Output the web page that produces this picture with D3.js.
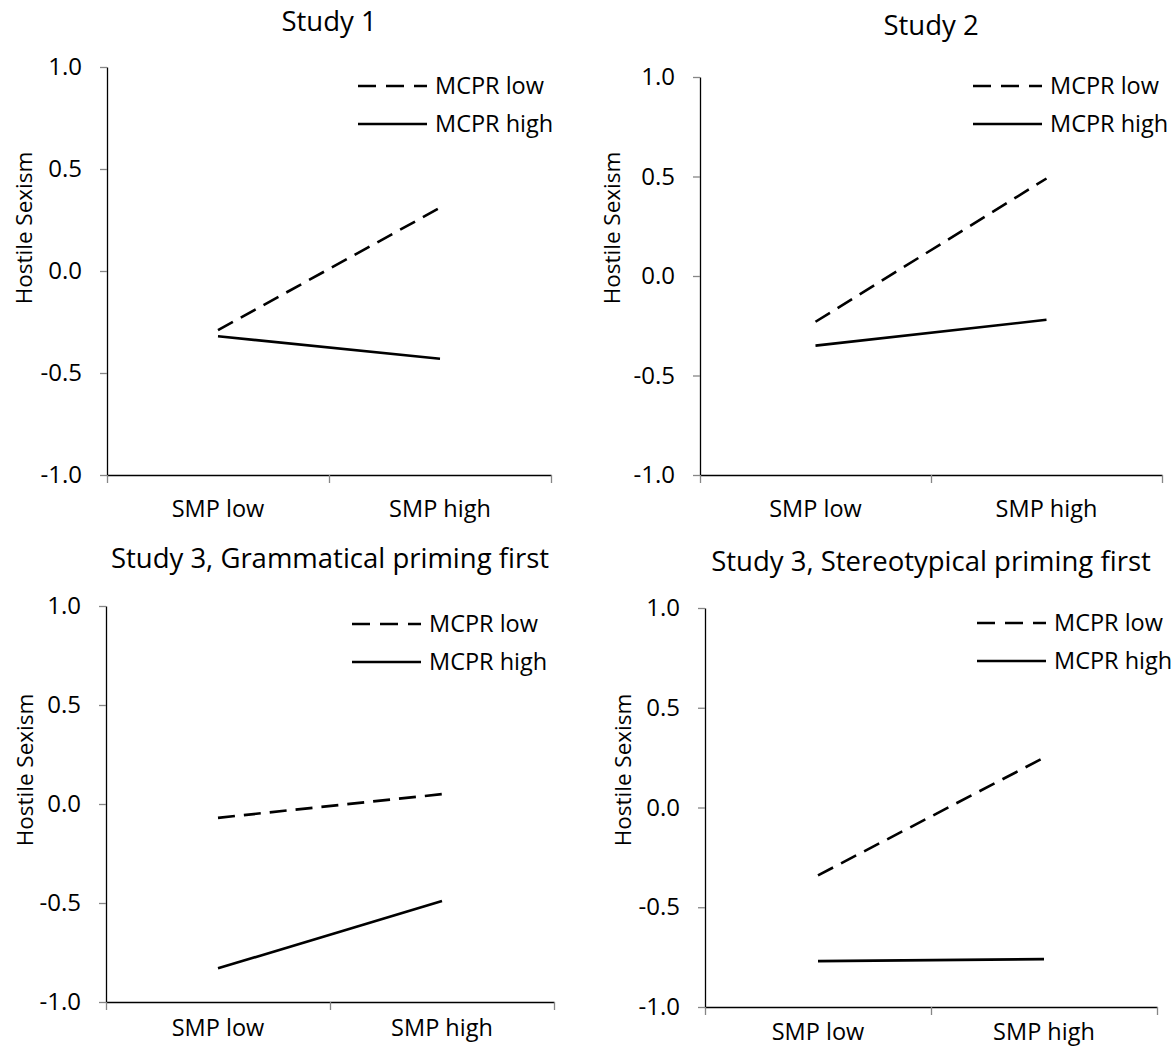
<!DOCTYPE html>
<html>
<head>
<meta charset="utf-8">
<script src="https://cdn.jsdelivr.net/npm/d3@7"></script>
<style>
  body { margin: 0; background: #fff; }
  text { font-family: "Open Sans", sans-serif; fill: #000; }
  .axis path { stroke: #000; stroke-width: 1.3; }
  .axis line { stroke: #868686; stroke-width: 1.3; }
</style>
</head>
<body>
<svg id="chart" width="1176" height="1057"></svg>
<script>
// data
const panelTitles = ["Study 1", "Study 2", "Study 3, Grammatical priming first", "Study 3, Stereotypical priming first"];
const categories = ["SMP low", "SMP high"];
const seriesNames = ["MCPR low", "MCPR high"];
const yTicks = [-1.0, -0.5, 0.0, 0.5, 1.0];
const yLabel = "Hostile Sexism";
// one pair per panel: [SMP low, SMP high]
const mcprLow = [[-0.29, 0.31], [-0.23, 0.49], [-0.07, 0.05], [-0.34, 0.25]];
const mcprHigh = [[-0.32, -0.43], [-0.35, -0.22], [-0.83, -0.49], [-0.77, -0.76]];

// layout for each panel (pixels)
const layout = [
  {left: 107, right: 551, top: 67, bottom: 475, titleY: 31, labelX: 32, labelY: 228, catDy: 42, legX: 358, legY: 86},
  {left: 700, right: 1162, top: 77, bottom: 475, titleY: 35, labelX: 620, labelY: 228, catDy: 42, legX: 973, legY: 86},
  {left: 106, right: 554, top: 606, bottom: 1002, titleY: 568, labelX: 33, labelY: 770, catDy: 34, legX: 352, legY: 624},
  {left: 705, right: 1157, top: 608, bottom: 1007, titleY: 571, labelX: 631, labelY: 770, catDy: 33, legX: 977, legY: 623}
];

const svg = d3.select("#chart");
const dashes = ["17,9", null];
const fmt = d => d.toFixed(1);

function drawPanel(i) {
  let L = layout[i];
  let g = svg.append("g").attr("class", "panel");

  let y = d3.scaleLinear().domain([-1, 1]).range([L.bottom, L.top]);
  let xBand = d3.scaleBand().domain(categories).range([L.left, L.right]);
  let xEdge = d3.scaleLinear().domain([0, categories.length]).range([L.left, L.right]);

  // y axis
  g.append("g")
    .attr("class", "axis")
    .attr("transform", "translate(" + L.left + ",0)")
    .call(d3.axisLeft(y).tickValues(yTicks).tickFormat(fmt).tickSize(7).tickSizeOuter(0).tickPadding(18))
    .call(a => a.selectAll("text").style("font-size", "24px").style("font-family", "Open Sans"));

  // x axis: ticks at category edges, labels at category centres
  g.append("g")
    .attr("class", "axis")
    .attr("transform", "translate(0," + L.bottom + ")")
    .call(d3.axisBottom(xEdge).tickValues(d3.range(categories.length + 1)).tickFormat("").tickSize(8).tickSizeOuter(0));

  g.selectAll(".cat")
    .data(categories)
    .enter()
    .append("text")
    .attr("class", "cat")
    .attr("x", d => xBand(d) + xBand.bandwidth() / 2)
    .attr("y", L.bottom + L.catDy)
    .attr("text-anchor", "middle")
    .style("font-size", "23.5px")
    .text(d => d);

  // title
  g.append("text")
    .attr("x", (L.left + L.right) / 2)
    .attr("y", L.titleY)
    .attr("text-anchor", "middle")
    .style("font-size", "27.5px")
    .text(panelTitles[i]);

  // y label
  g.append("text")
    .attr("transform", "translate(" + L.labelX + "," + L.labelY + ") rotate(-90)")
    .attr("text-anchor", "middle")
    .style("font-size", "22.5px")
    .text(yLabel);

  // lines
  let line = d3.line()
    .x((d, j) => xBand(categories[j]) + xBand.bandwidth() / 2)
    .y(d => y(d));

  [mcprLow[i], mcprHigh[i]].forEach(function(vals, s) {
    g.append("path")
      .datum(vals)
      .attr("d", line)
      .attr("fill", "none")
      .attr("stroke", "#000")
      .attr("stroke-width", 2.6)
      .attr("stroke-dasharray", dashes[s]);
  });

  // legend
  seriesNames.forEach(function(name, s) {
    let ly = L.legY + s * 38;
    g.append("line")
      .attr("x1", L.legX)
      .attr("x2", L.legX + 69)
      .attr("y1", ly)
      .attr("y2", ly)
      .attr("stroke", "#000")
      .attr("stroke-width", 2.6)
      .attr("stroke-dasharray", s === 0 ? "18,10" : null);
    g.append("text")
      .attr("x", L.legX + 77)
      .attr("y", ly + 8)
      .style("font-size", "23.5px")
      .text(name);
  });
}

for (let i = 0; i < panelTitles.length; i++) {
  drawPanel(i);
}
</script>
</body>
</html>
